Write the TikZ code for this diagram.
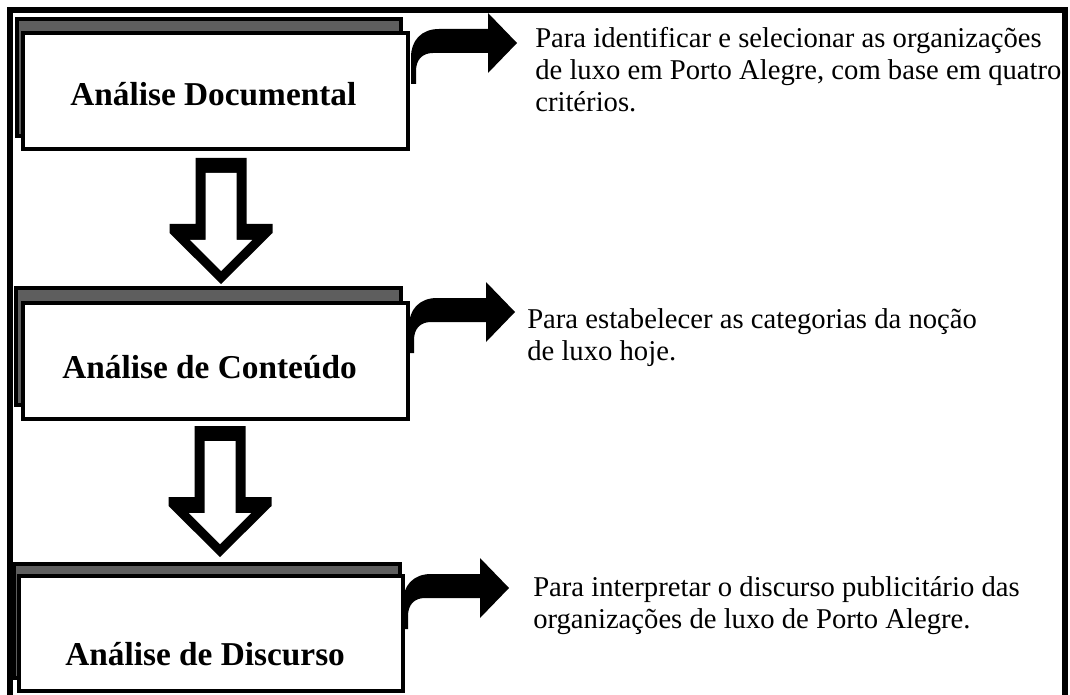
\documentclass[tikz,border=0pt]{standalone}
\usepackage{fontspec}
\setmainfont{Liberation Serif}
\usetikzlibrary{calc}
\definecolor{shadowgray}{RGB}{94,94,94}
\begin{document}
\begin{tikzpicture}[x=0.75pt,y=-0.75pt,
  backbox/.style={draw=black,line width=3pt,fill=shadowgray,anchor=north west,inner sep=0pt,outer sep=0pt},
  frontbox/.style={draw=black,line width=3pt,fill=white,anchor=north west,inner sep=0pt,outer sep=0pt},
  boxlabel/.style={anchor=base west,inner sep=0pt,font=\fontsize{25}{30}\selectfont\bfseries},
  bodytext/.style={anchor=base west,inner sep=0pt,font=\fontsize{21.5}{26}\selectfont},
  bentarrow/.pic={
    \fill[black] (-29,-30) -- (0,0) -- (-29,30) -- (-29,10) -- (-84,10)
      .. controls (-95,10) and (-101,17) .. (-101,28) -- (-101,41) -- (-106,41) -- (-106,14)
      .. controls (-106,-2) and (-96,-14) .. (-78,-14) -- (-29,-14) -- cycle;
  },
  downblock/.pic={
    \fill[black] (-25.5,-#1) -- (25.5,-#1) -- (25.5,-60) -- (51.5,-60) -- (51.5,-51) -- (0,0)
      -- (-51.5,-51) -- (-51.5,-60) -- (-25.5,-60) -- cycle;
    \fill[white] (-15.5,-#1+15) -- (15.5,-#1+15) -- (15.5,-44) -- (31,-44) -- (0,-13)
      -- (-31,-44) -- (-15.5,-44) -- cycle;
  }]
\useasboundingbox (0,0) rectangle (1070,695);
\clip (0,0) rectangle (1070,695);

% boxes
\node[backbox,minimum width=384*0.75pt,minimum height=117*0.75pt] (back1) at (17,19) {};
\node[frontbox,minimum width=385*0.75pt,minimum height=116*0.75pt] (front1) at (23,33) {};
\node[backbox,minimum width=385*0.75pt,minimum height=117*0.75pt] (back2) at (16,288) {};
\node[frontbox,minimum width=385*0.75pt,minimum height=116*0.75pt] (front2) at (23,303) {};
\node[backbox,minimum width=386*0.75pt,minimum height=114*0.75pt] (back3) at (14,564) {};
\node[frontbox,minimum width=384*0.75pt,minimum height=115*0.75pt] (front3) at (19,576) {};

\node[boxlabel] (lab1) at (70,106) {Análise Documental};
\node[boxlabel] (lab2) at (62,378) {Análise de Conteúdo};
\node[boxlabel] (lab3) at (65,665) {Análise de Discurso};

% bent arrows from boxes to texts
\coordinate (t1) at ($(front1.north east)+(109,10)$);
\coordinate (t2) at ($(front2.north east)+(107,9)$);
\coordinate (t3) at ($(front3.north east)+(106,12)$);
\pic at (t1) {bentarrow};
\pic at (t2) {bentarrow};
\pic at (t3) {bentarrow};

% down block arrows between boxes
\coordinate (tipA) at ($(back2.north west)+(205,-4)$);
\coordinate (tipB) at ($(back3.north west)+(206,-7)$);
\pic at (tipA) {downblock=126};
\pic at (tipB) {downblock=131};

% texts
\node[bodytext] (d1a) at (535,48) {Para identificar e selecionar as organizações};
\node[bodytext] (d1b) at (535,80) {de luxo em Porto Alegre, com base em quatro};
\node[bodytext] (d1c) at (535,112) {critérios.};
\node[bodytext] (d2a) at (527,328) {Para estabelecer as categorias da noção};
\node[bodytext] (d2b) at (527,360) {de luxo hoje.};
\node[bodytext] (d3a) at (533,596) {Para interpretar o discurso publicitário das};
\node[bodytext] (d3b) at (533,628) {organizações de luxo de Porto Alegre.};

% outer frame
\draw[line width=4.9pt] (10,720) -- (10,10) -- (1065,10) -- (1065,720);
\end{tikzpicture}
\end{document}
